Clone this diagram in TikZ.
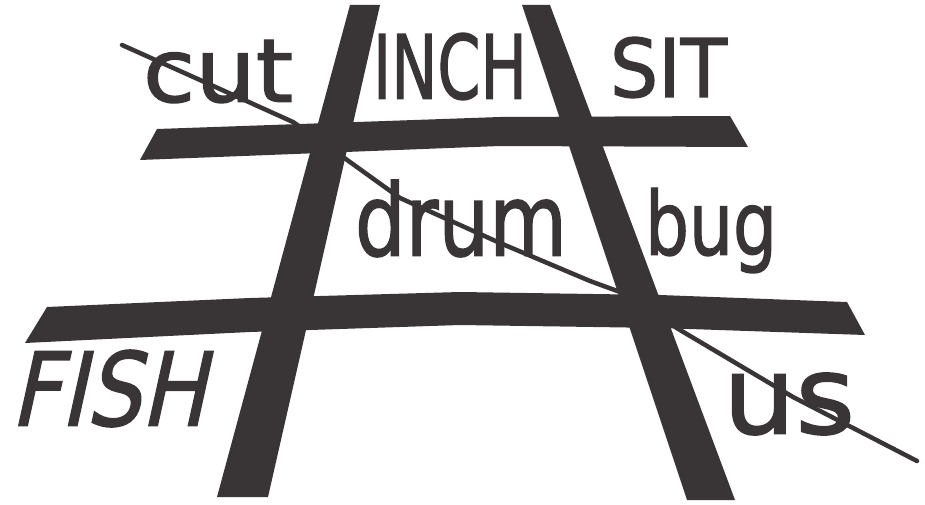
\documentclass[tikz,border=0pt]{standalone}
\usepackage{graphicx}
\usepackage{fontspec}
\setmainfont{DejaVu Sans}
\newfontfamily\handfont[FakeBold=1.6]{DejaVu Sans}
\definecolor{ink}{RGB}{57,53,54}
\begin{document}
\begin{tikzpicture}[x=1pt,y=-1pt,
  bar/.style={fill=ink,draw=none},
  word/.style={inner sep=0pt,outer sep=0pt,text=ink,font=\handfont},
  strike/.style={draw=ink,line width=4.5pt,line cap=round,line join=round}]
\useasboundingbox (0,0) rectangle (925,505);
% grid bars
\fill[bar] (350,5) -- (380,5) -- (268,497) -- (217,497) -- cycle;
\fill[bar] (522,5) -- (550,5) -- (735,500) -- (687,500) -- cycle;
\fill[bar] (157,129) -- (500,117) -- (730,116) -- (748,147) -- (500,146) -- (140,160) -- cycle;
\fill[bar] (47,307) -- (250,298) -- (460,292) -- (660,295) -- (847,302) -- (865,335) -- (660,328) -- (460,325) -- (250,332) -- (25,343) -- cycle;
% words
\node[word] (cut)  at (218,71.5)  {\resizebox*{150pt}{63pt}{cut}};
\node[word] (inch) at (450,66.5)  {\resizebox*{154pt}{67pt}{INCH}};
\node[word] (sit)  at (668.5,67.5){\resizebox*{117pt}{61pt}{SIT}};
\node[word] (drum) at (461,218.5) {\resizebox*{212pt}{77pt}{drum}};
\node[word] (bug)  at (711,230.5) {\resizebox*{132pt}{85pt}{bug}};
\node[word,xslant=0.22] (fish) at (116,388.5){\resizebox*{195pt}{77pt}{FISH}};
\node[word] (us)   at (789,404)   {\resizebox*{132pt}{62pt}{us}};
% crossing-out line
\coordinate (s0) at (122,45);
\coordinate (s1) at (200,80);
\coordinate (s2) at (293,122);
\coordinate (s3) at (343,157);
\coordinate (s4) at (400,198);
\coordinate (s5) at (500,243);
\coordinate (s6) at (590,281);
\coordinate (s7) at (620,292);
\coordinate (s8) at (680,330);
\coordinate (s9) at (793,397);
\coordinate (s10) at (917,461);
\draw[strike] (s0) -- (s1) -- (s2) -- (s3) -- (s4) -- (s5) -- (s6) -- (s7) -- (s8) -- (s9) -- (s10);
\end{tikzpicture}
\end{document}
